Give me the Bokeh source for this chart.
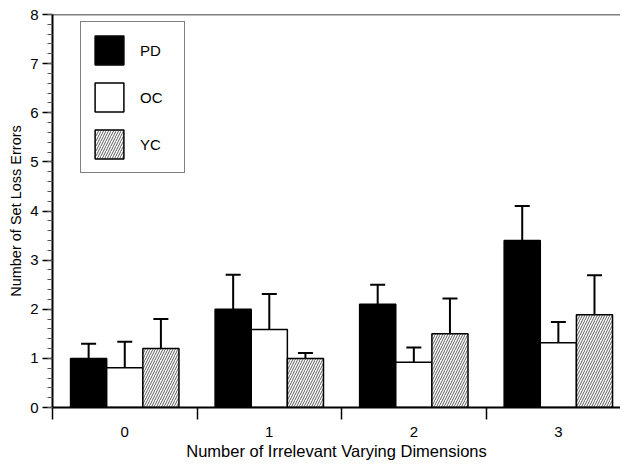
import numpy as np
from bokeh.plotting import figure
from bokeh.models import (ColumnDataSource, Legend, LegendItem, FixedTicker,
                          SingleIntervalTicker, Whisker, TeeHead, Range1d, Span)
from bokeh.embed import file_html
from bokeh.resources import INLINE

# ---- data ----
groups = ["0", "1", "2", "3"]
pd_mean = [1.0, 2.0, 2.1, 3.4]
pd_sem = [0.3, 0.7, 0.4, 0.7]
oc_mean = [0.81, 1.59, 0.92, 1.32]
oc_sem = [0.53, 0.72, 0.3, 0.42]
yc_mean = [1.2, 1.0, 1.5, 1.89]
yc_sem = [0.6, 0.11, 0.72, 0.8]
series = ["PD", "OC", "YC"]
y_max = 8

FONT = "Liberation Sans"
idx = np.arange(len(groups), dtype=float)
bw = 0.25

src = ColumnDataSource(dict(
    x_pd=idx - bw, x_oc=idx, x_yc=idx + bw,
    pd=pd_mean, oc=oc_mean, yc=yc_mean,
    pd_top=np.array(pd_mean) + np.array(pd_sem),
    oc_top=np.array(oc_mean) + np.array(oc_sem),
    yc_top=np.array(yc_mean) + np.array(yc_sem),
))

p = figure(width=620, height=462, x_range=Range1d(-0.5, 3.43), y_range=Range1d(0, y_max),
           output_backend="svg", toolbar_location=None,
           min_border_left=52, min_border_right=0, min_border_top=14, min_border_bottom=0)
p.grid.visible = False
p.outline_line_color = None
p.background_fill_color = "white"

common = dict(width=bw, bottom=0, line_color="black", line_width=1.5, source=src)
r_pd = p.vbar(x="x_pd", top="pd", fill_color="black", **common)
r_oc = p.vbar(x="x_oc", top="oc", fill_color="white", **common)
r_yc = p.vbar(x="x_yc", top="yc", fill_color="white", hatch_pattern="/",
              hatch_color="#333333", hatch_scale=5, hatch_weight=0.8, **common)

for key in ["pd", "oc", "yc"]:
    w = Whisker(source=src, base="x_" + key, lower=key, upper=key + "_top",
                upper_head=TeeHead(size=15, line_width=2, line_color="black"),
                lower_head=None, line_width=2, line_color="black")
    p.add_layout(w)

# x axis
xa = p.xaxis[0]
xa.ticker = FixedTicker(ticks=list(idx), minor_ticks=list(idx - 0.5))
xa.major_label_overrides = {float(i): g for i, g in enumerate(groups)}
xa.major_tick_line_color = None
xa.minor_tick_in = 0
xa.minor_tick_out = 12
xa.minor_tick_line_width = 1.5
xa.minor_tick_line_color = "black"
xa.axis_line_width = 2
xa.axis_line_color = "black"
xa.axis_label = "Number of Irrelevant Varying Dimensions"
xa.major_label_standoff = 7
xa.axis_label_standoff = 2

# y axis
ya = p.yaxis[0]
ya.ticker = SingleIntervalTicker(interval=1, num_minor_ticks=5)
ya.major_tick_in = 0
ya.major_tick_out = 10
ya.minor_tick_in = 0
ya.minor_tick_out = 5
ya.minor_tick_line_color = "#555555"
ya.major_tick_line_width = 1.5
ya.axis_line_width = 2
ya.axis_line_color = "black"
ya.axis_label = "Number of Set Loss Errors"
ya.major_label_standoff = 4
ya.axis_label_standoff = 3

for ax in (xa, ya):
    ax.major_label_text_font = FONT
    ax.major_label_text_font_size = "15px"
    ax.major_label_text_color = "black"
    ax.axis_label_text_font = FONT
    ax.axis_label_text_font_style = "normal"
    ax.axis_label_text_color = "black"
xa.axis_label_text_font_size = "16.5px"
ya.axis_label_text_font_size = "14.5px"

# top border line
p.add_layout(Span(location=y_max, dimension="width", line_color="black", line_width=1.5))

legend = Legend(items=[LegendItem(label=s, renderers=[r]) for s, r in zip(series, [r_pd, r_oc, r_yc])],
                location=(28, 234), padding=10, spacing=11, glyph_width=36, glyph_height=36,
                label_standoff=13, label_width=34, border_line_color="black", border_line_width=1.5,
                label_text_font=FONT, label_text_font_size="15px", label_text_color="black",
                margin=0, background_fill_alpha=1.0)
p.add_layout(legend)

open("out.html", "w").write(file_html(p, INLINE))
